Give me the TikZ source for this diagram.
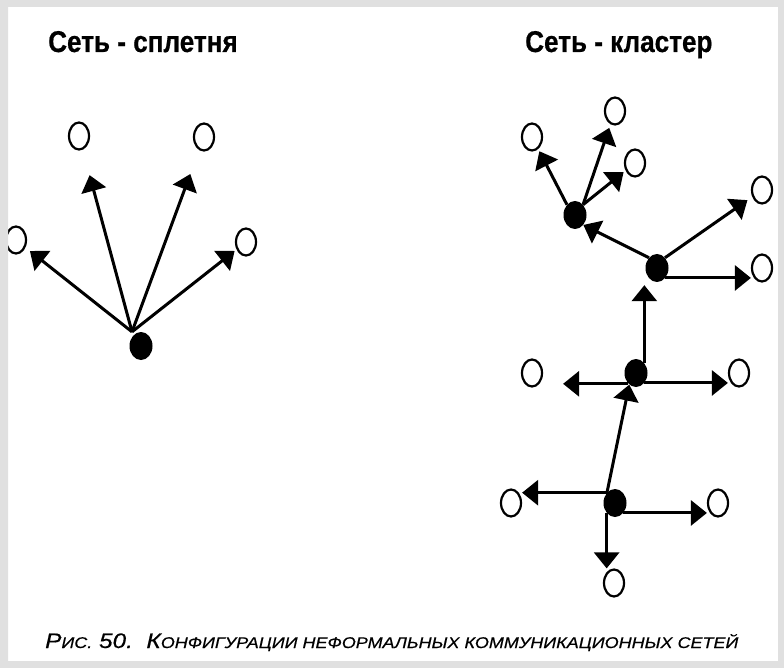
\documentclass[tikz,border=0pt]{standalone}
\usepackage{fontspec}
\usetikzlibrary{shapes.geometric,arrows.meta,calc}
\newfontfamily\titlefont[FakeStretch=0.87,FakeBold=0.6]{Liberation Sans}
\newfontfamily\capfont[FakeStretch=1.16,FakeBold=0.5]{Liberation Sans}
\newcommand\smc[1]{{\fontsize{15.5}{15.5}\selectfont #1}}
\begin{document}
\begin{tikzpicture}[x=1pt,y=-1pt,
  opennode/.style={ellipse, draw=black, line width=2.2pt, fill=white, inner sep=0pt, minimum width=20pt, minimum height=27pt},
  hubnode/.style={ellipse, fill=black, inner sep=0pt, minimum width=23pt, minimum height=28pt},
  arr/.style={line width=3pt, -{Triangle[length=16pt,width=25pt]}},
  titletext/.style={anchor=base west, inner sep=0pt, font=\titlefont\bfseries\fontsize{30}{30}\selectfont},
  captext/.style={anchor=base west, inner sep=0pt, font=\capfont\itshape\fontsize{21}{21}\selectfont},
  frame/.style={fill=gray!24}
]
\useasboundingbox (0,0) rectangle (784,668);
\fill[white] (0,0) rectangle (784,668);

% titles
\node[titletext] (t1) at (48,52) {Сеть - сплетня};
\node[titletext] (t2) at (525,52) {Сеть - кластер};

% ---------- left network ----------
\node[hubnode] (H) at (141,346) {};
\node[opennode] (L1) at (16,240) {};
\node[opennode] (T1) at (79,136) {};
\node[opennode] (T2) at (204,137) {};
\node[opennode] (R1) at (246,242) {};
\coordinate (S) at ($(H.north)+(-9,0)$);
\draw[arr] (S) -- ($(S)!0.88!(L1)$);
\draw[arr] (S) -- ($(S)!0.80!(T1)$);
\draw[arr] (S) -- ($(S)!0.81!(T2)$);
\draw[arr] (S) -- ($(S)!0.90!(R1)$);

% ---------- cluster network ----------
\node[hubnode] (A) at (575,215) {};
\node[hubnode] (B) at (657,268) {};
\node[hubnode] (C) at (636,373) {};
\node[hubnode] (D) at (615,503) {};
\node[opennode] (a1) at (532,137) {};
\node[opennode] (a2) at (615,111) {};
\node[opennode] (a3) at (635,163) {};
\node[opennode] (b1) at (762,190) {};
\node[opennode] (b2) at (762,268) {};
\node[opennode] (c1) at (532,373) {};
\node[opennode] (c2) at (739,373) {};
\node[opennode] (d1) at (511,503) {};
\node[opennode] (d2) at (718,503) {};
\node[opennode] (d3) at (614,583) {};

\draw[arr] (A.128) -- ($(A.128)!0.79!(a1)$);
\draw[arr] (A.52) -- ($(A.52)!0.82!(a2)$);
\draw[arr] (A.52) -- ($(A.52)!0.78!(a3)$);
\draw[arr] (B.128) -- (A.-50);
\draw[arr] (B.52) -- ($(B.52)!0.85!(b1)$);
\draw[arr] (B.-50) -- (B.-50 -| b2.west);
\draw[arr, shorten >=3pt] (C.50) -- (C.50 |- B.south);
\draw[arr, shorten >=20pt] (C.235) -- (C.235 -| c1.east);
\draw[arr] (C.-50) -- (C.-50 -| c2.west);
\draw[arr] (D.128) -- (C.240);
\draw[arr] (D.128) -- (D.128 -| d1.east);
\draw[arr] (D.-50) -- (D.-50 -| d2.west);
\draw[arr] (D.230) -- (D.230 |- d3.north);

% caption
\node[captext] (cap) at (45,648) {Р\smc{ИС.} 50.\ \ К\smc{ОНФИГУРАЦИИ НЕФОРМАЛЬНЫХ КОММУНИКАЦИОННЫХ СЕТЕЙ}};

% frame
\fill[frame, even odd rule] (0,0) rectangle (784,668) (8,7) rectangle (778,661);
\end{tikzpicture}
\end{document}
